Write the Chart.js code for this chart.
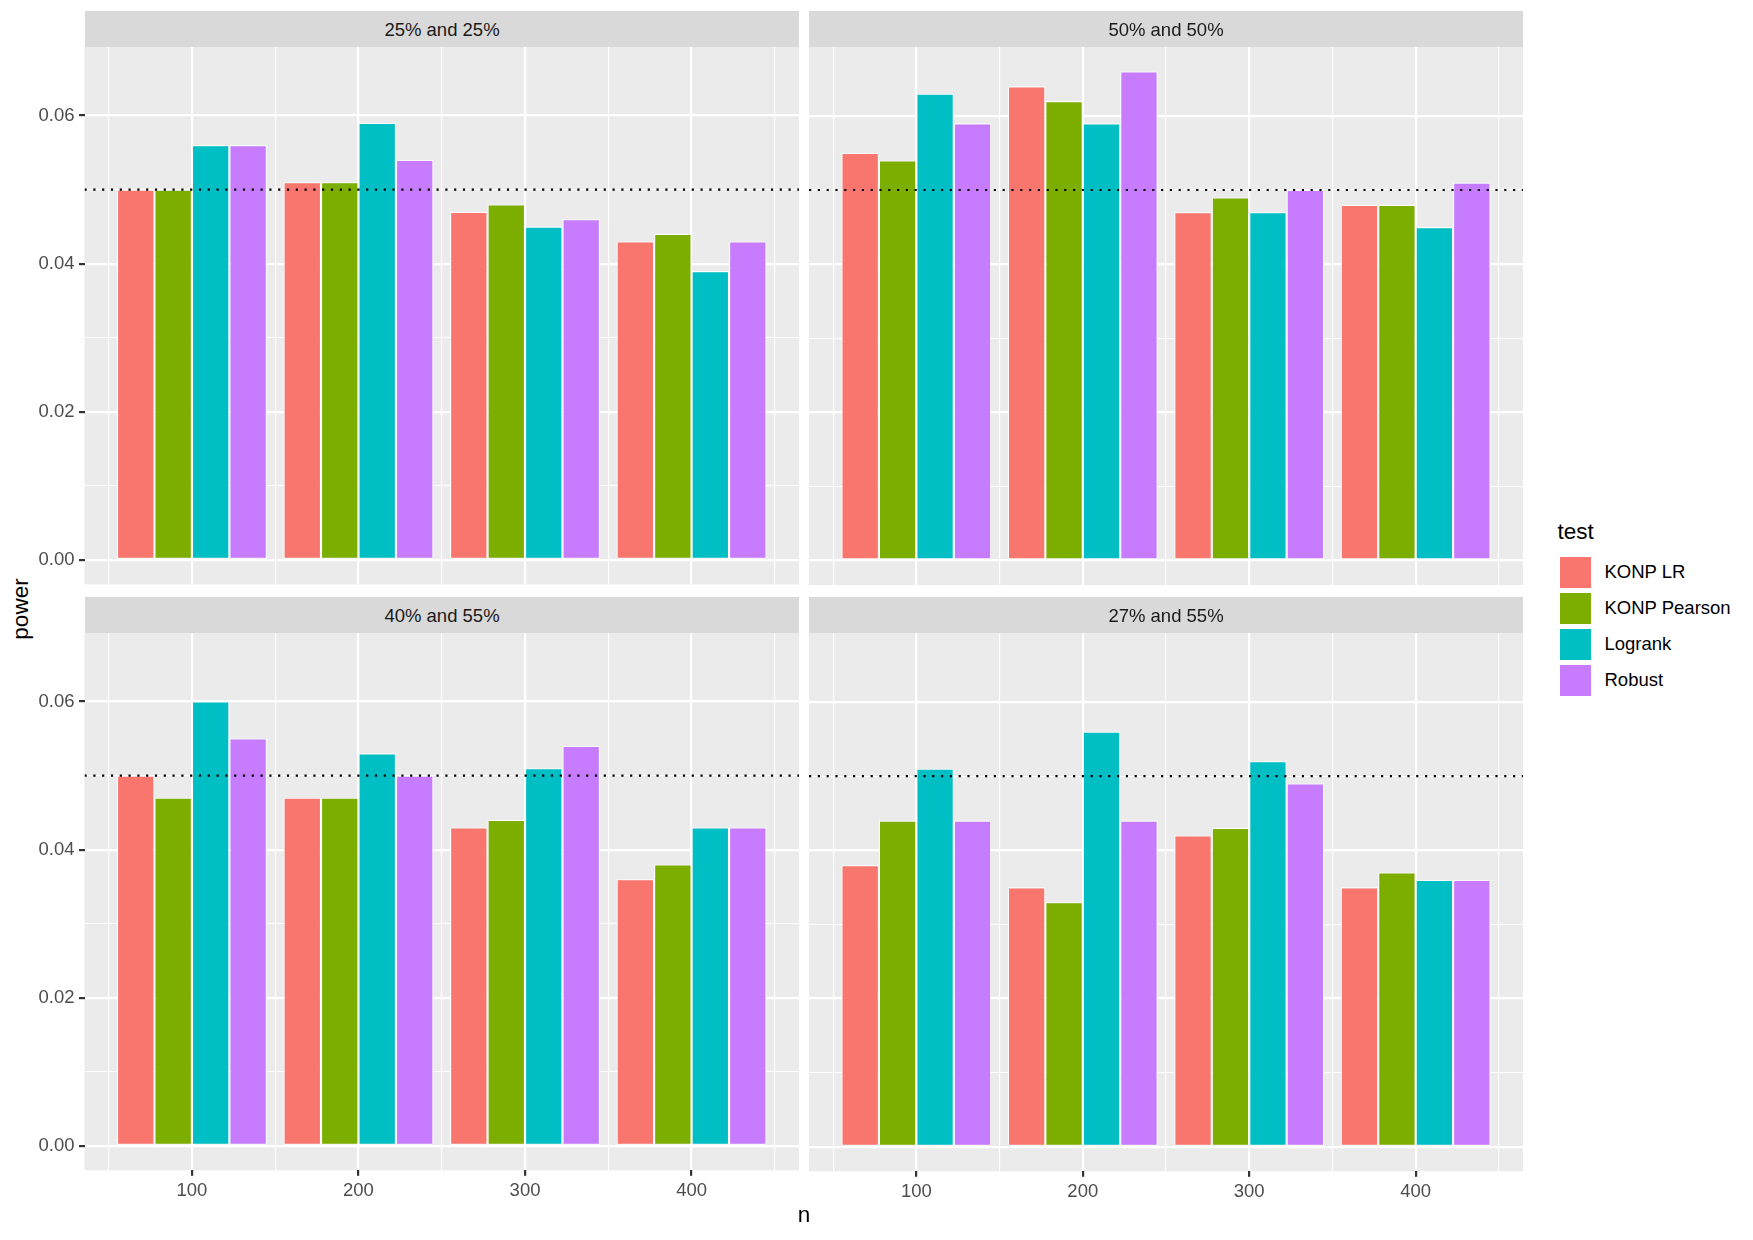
<!DOCTYPE html>
<html>
<head>
<meta charset="utf-8">
<script src="https://cdn.jsdelivr.net/npm/chart.js@4.4.1/dist/chart.umd.min.js"></script>
<style>
  html, body { margin:0; padding:0; background:#FFFFFF; width:1753px; height:1240px; overflow:hidden; }
  #stage { position:relative; width:1753px; height:1240px; font-family:"Liberation Sans", Arial, Helvetica, sans-serif; }
  #stage canvas { position:absolute; }
  .txt { position:absolute; white-space:nowrap; }
  .strip { position:absolute; background:#D9D9D9; }
  .key { position:absolute; }
</style>
</head>
<body>
<div id="stage"></div>
<script>
// ---------------- data ----------------
const nValues = [100, 200, 300, 400];
const testNames = ['KONP LR', 'KONP Pearson', 'Logrank', 'Robust'];
const panelTitles = ['25% and 25%', '50% and 50%', '40% and 55%', '27% and 55%'];

// panel "25% and 25%"
const lr_25_25      = [0.050, 0.051, 0.047, 0.043];
const pearson_25_25 = [0.050, 0.051, 0.048, 0.044];
const logrank_25_25 = [0.056, 0.059, 0.045, 0.039];
const robust_25_25  = [0.056, 0.054, 0.046, 0.043];
// panel "50% and 50%"
const lr_50_50      = [0.055, 0.064, 0.047, 0.048];
const pearson_50_50 = [0.054, 0.062, 0.049, 0.048];
const logrank_50_50 = [0.063, 0.059, 0.047, 0.045];
const robust_50_50  = [0.059, 0.066, 0.050, 0.051];
// panel "40% and 55%"
const lr_40_55      = [0.050, 0.047, 0.043, 0.036];
const pearson_40_55 = [0.047, 0.047, 0.044, 0.038];
const logrank_40_55 = [0.060, 0.053, 0.051, 0.043];
const robust_40_55  = [0.055, 0.050, 0.054, 0.043];
// panel "27% and 55%"
const lr_27_55      = [0.038, 0.035, 0.042, 0.035];
const pearson_27_55 = [0.044, 0.033, 0.043, 0.037];
const logrank_27_55 = [0.051, 0.056, 0.052, 0.036];
const robust_27_55  = [0.044, 0.044, 0.049, 0.036];

const xMajorTicks = [100, 200, 300, 400];
const xMinorTicks = [50, 150, 250, 350, 450];
const yMajorTicks = [0, 0.02, 0.04, 0.06];
const yMinorTicks = [0.01, 0.03, 0.05];
const refLevel = 0.05;
const xTitle = 'n';
const yTitle = 'power';
const legendTitle = 'test';

// ---------------- styles ----------------
const seriesColors = ['#F8766D', '#7CAE00', '#00BFC4', '#C77CFF'];
const FONT = '"Liberation Sans", Arial, Helvetica, sans-serif';
const SMALL = 18.5, TITLE = 22.5;

Chart.defaults.font.family = FONT;
Chart.defaults.color = '#4D4D4D';

// scale ranges as ggplot computes them (5% expansion, dodge width 0.9)
const allValues = [lr_25_25, pearson_25_25, logrank_25_25, robust_25_25,
                   lr_50_50, pearson_50_50, logrank_50_50, robust_50_50,
                   lr_40_55, pearson_40_55, logrank_40_55, robust_40_55,
                   lr_27_55, pearson_27_55, logrank_27_55, robust_27_55].flat();
const yLo = Math.min(0, ...allValues), yHi = Math.max(...allValues);
const yMin = yLo - 0.05 * (yHi - yLo), yMax = yHi + 0.05 * (yHi - yLo);
const dodge = 0.9 * (nValues[1] - nValues[0]);
const xLo = Math.min(...nValues) - dodge / 2, xHi = Math.max(...nValues) + dodge / 2;
const xMin = xLo - 0.05 * (xHi - xLo), xMax = xHi + 0.05 * (xHi - xLo);

const panels = [
  { title: panelTitles[0], series: [lr_25_25, pearson_25_25, logrank_25_25, robust_25_25], col: 0, row: 0 },
  { title: panelTitles[1], series: [lr_50_50, pearson_50_50, logrank_50_50, robust_50_50], col: 1, row: 0 },
  { title: panelTitles[2], series: [lr_40_55, pearson_40_55, logrank_40_55, robust_40_55], col: 0, row: 1 },
  { title: panelTitles[3], series: [lr_27_55, pearson_27_55, logrank_27_55, robust_27_55], col: 1, row: 1 }
];

// layout (pixels)
const COL_LEFT = [85, 809];
const ROW_TOP = [47, 633];
const PANEL_W = 714, PANEL_H = 538, STRIP_H = 36.5;

const stage = document.getElementById('stage');

const panelBackground = {
  id: 'panelBackground',
  beforeDraw(chart) {
    const { ctx, chartArea: a } = chart;
    ctx.save();
    ctx.fillStyle = '#EBEBEB';
    ctx.fillRect(a.left, a.top, a.right - a.left, a.bottom - a.top);
    ctx.restore();
  }
};

const referenceLine = {
  id: 'referenceLine',
  afterDatasetsDraw(chart) {
    const { ctx, chartArea: a, scales } = chart;
    const py = scales.y.getPixelForValue(refLevel);
    ctx.save();
    ctx.beginPath();
    ctx.rect(a.left, a.top, a.right - a.left, a.bottom - a.top);
    ctx.clip();
    ctx.strokeStyle = '#000000';
    ctx.lineWidth = 2.2;
    ctx.lineCap = 'butt';
    ctx.setLineDash([2.2, 6.6]);
    ctx.beginPath();
    ctx.moveTo(a.left, py);
    ctx.lineTo(a.right, py);
    ctx.stroke();
    ctx.restore();
  }
};

function makeConfig(p) {
  const showX = p.row === 1;
  const showY = p.col === 0;
  return {
    type: 'bar',
    data: {
      datasets: testNames.map((name, i) => ({
        label: name,
        xAxisID: 'x',
        yAxisID: 'y',
        data: nValues.map((n, j) => ({ x: n, y: p.series[i][j] })),
        backgroundColor: seriesColors[i],
        borderColor: '#FFFFFF',
        borderWidth: 1.1,
        borderSkipped: false,
        categoryPercentage: 0.9,
        barPercentage: 1.0
      }))
    },
    options: {
      responsive: false,
      maintainAspectRatio: false,
      animation: false,
      devicePixelRatio: 1,
      layout: { padding: 0 },
      plugins: { legend: { display: false }, tooltip: { enabled: false } },
      scales: {
        x2: {
          type: 'linear', position: 'top', min: xMin, max: xMax, bounds: 'data', offset: false,
          afterBuildTicks: (ax) => { ax.ticks = xMinorTicks.map(v => ({ value: v })); },
          grid: { offset: false, color: '#FFFFFF', lineWidth: 1.1, drawTicks: false },
          border: { display: false },
          ticks: { display: false }
        },
        y2: {
          type: 'linear', position: 'right', min: yMin, max: yMax, bounds: 'data',
          afterBuildTicks: (ax) => { ax.ticks = yMinorTicks.map(v => ({ value: v })); },
          grid: { color: '#FFFFFF', lineWidth: 1.1, drawTicks: false },
          border: { display: false },
          ticks: { display: false }
        },
        x: {
          type: 'linear', position: 'bottom', min: xMin, max: xMax, bounds: 'data', offset: false,
          afterBuildTicks: (ax) => { ax.ticks = xMajorTicks.map(v => ({ value: v })); },
          grid: { offset: false, color: '#FFFFFF', lineWidth: 2.2, drawTicks: showX,
                  tickLength: 5.5, tickColor: '#333333', tickWidth: 2.2 },
          border: { display: false },
          ticks: { display: showX, autoSkip: false, maxRotation: 0, minRotation: 0, padding: 4.5,
                   color: '#4D4D4D', font: { family: FONT, size: SMALL },
                   callback: (v) => String(v) }
        },
        y: {
          type: 'linear', position: 'left', min: yMin, max: yMax, bounds: 'data',
          afterBuildTicks: (ax) => { ax.ticks = yMajorTicks.map(v => ({ value: v })); },
          grid: { color: '#FFFFFF', lineWidth: 2.2, drawTicks: showY,
                  tickLength: 5.5, tickColor: '#333333', tickWidth: 2.2 },
          border: { display: false },
          ticks: { display: showY, autoSkip: false, padding: 4.5,
                   color: '#4D4D4D', font: { family: FONT, size: SMALL },
                   callback: (v) => Number(v).toFixed(2) }
        }
      }
    },
    plugins: [panelBackground, referenceLine]
  };
}

function makeCanvas(w, h) {
  const c = document.createElement('canvas');
  c.width = w; c.height = h;
  c.style.width = w + 'px'; c.style.height = h + 'px';
  c.style.left = '0px'; c.style.top = '0px';
  stage.appendChild(c);
  return c;
}

function buildPanel(p) {
  const box = { left: COL_LEFT[p.col], top: ROW_TOP[p.row], w: PANEL_W, h: PANEL_H };
  let cw = box.w + 120, ch = box.h + 80;
  let canvas = makeCanvas(cw, ch);
  let chart = new Chart(canvas, makeConfig(p));
  const a = chart.chartArea;
  cw = Math.round(cw + box.w - (a.right - a.left));
  ch = Math.round(ch + box.h - (a.bottom - a.top));
  chart.destroy();
  canvas.remove();
  canvas = makeCanvas(cw, ch);
  chart = new Chart(canvas, makeConfig(p));
  const b = chart.chartArea;
  canvas.style.left = Math.round(box.left - b.left) + 'px';
  canvas.style.top = Math.round(box.top - b.top) + 'px';

  // strip
  const s = document.createElement('div');
  s.className = 'strip';
  s.style.left = box.left + 'px';
  s.style.top = (box.top - STRIP_H) + 'px';
  s.style.width = box.w + 'px';
  s.style.height = STRIP_H + 'px';
  stage.appendChild(s);
  addText(p.title, box.left + box.w / 2, box.top - STRIP_H + 26, SMALL, '#1A1A1A', 'center');
}

function addText(txt, x, baseline, size, color, align) {
  const d = document.createElement('div');
  d.className = 'txt';
  d.textContent = txt;
  d.style.fontSize = size + 'px';
  d.style.lineHeight = size + 'px';
  d.style.color = color;
  d.style.top = (baseline - 0.8465 * size) + 'px';
  d.style.left = x + 'px';
  if (align === 'center') d.style.transform = 'translateX(-50%)';
  stage.appendChild(d);
  return d;
}

panels.forEach(buildPanel);

// axis titles
addText(xTitle, 804, 1223, TITLE, '#000000', 'center');
const yt = document.createElement('div');
yt.className = 'txt';
yt.textContent = yTitle;
yt.style.fontSize = TITLE + 'px';
yt.style.lineHeight = TITLE + 'px';
yt.style.color = '#000000';
yt.style.left = '21px';
yt.style.top = '608.5px';
yt.style.transform = 'translate(-50%, -50%) rotate(-90deg)';
stage.appendChild(yt);

// legend
addText(legendTitle, 1557.5, 540, TITLE, '#000000', 'left');
testNames.forEach((name, i) => {
  const k = document.createElement('div');
  k.className = 'key';
  const top = 557 + i * 35.9;
  k.style.left = '1560px';
  k.style.top = top + 'px';
  k.style.width = '31px';
  k.style.height = '31px';
  k.style.background = seriesColors[i];
  stage.appendChild(k);
  addText(name, 1604.5, top + 15.5 + 6.6, SMALL, '#000000', 'left');
});
</script>
</body>
</html>
